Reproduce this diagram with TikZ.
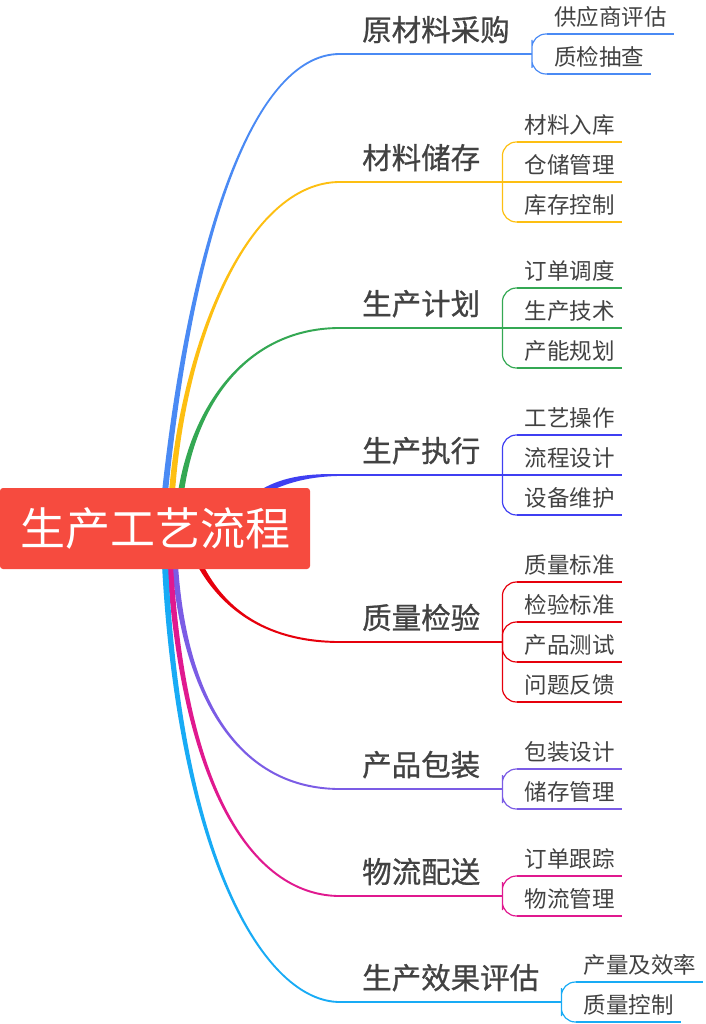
\documentclass[tikz,border=0pt]{standalone}
\usepackage{fontspec}
\newfontfamily\cjk{Noto Sans CJK SC}
\newfontfamily\cjkb[FakeBold=0.8]{Noto Sans CJK SC}
\usetikzlibrary{calc,backgrounds}
\definecolor{cA}{HTML}{4A8AF4}
\definecolor{cB}{HTML}{FDBF12}
\definecolor{cC}{HTML}{34A853}
\definecolor{cD}{HTML}{3F3FF2}
\definecolor{cE}{HTML}{E6000C}
\definecolor{cF}{HTML}{7B5CE5}
\definecolor{cG}{HTML}{E0198F}
\definecolor{cH}{HTML}{18ABF5}
\definecolor{rootred}{HTML}{F64B3F}
\definecolor{txt}{HTML}{424242}
\newcommand\taperup[5]{%
  \fill[#1] ($#2+(-3,0)$) .. controls ($#3+(-2,0)$) and ($#4+(0,-1.4)$) .. ($#5+(0,-0.9)$)
    -- ($#5+(0,0.9)$) .. controls ($#4+(0,1.4)$) and ($#3+(2,0)$) .. ($#2+(3,0)$) -- cycle;}
\newcommand\taperdown[5]{%
  \fill[#1] ($#2+(-3,0)$) .. controls ($#3+(-2,0)$) and ($#4+(0,1.4)$) .. ($#5+(0,0.9)$)
    -- ($#5+(0,-0.9)$) .. controls ($#4+(0,-1.4)$) and ($#3+(2,0)$) .. ($#2+(3,0)$) -- cycle;}
\tikzset{
  mainlbl/.style={anchor=south west, inner xsep=22pt, inner ysep=0pt, text height=21pt, text depth=13pt,
    font=\cjkb\fontsize{29.5}{30}\selectfont, text=txt},
  sublbl/.style={anchor=south west, inner xsep=7pt, inner ysep=0pt, text height=16pt, text depth=8.6pt,
    font=\cjk\fontsize{22.5}{23}\selectfont, text=txt},
  mline/.style={line width=1.8pt},
  sline/.style={line width=1.2pt},
  brk/.style={line width=1.2pt, rounded corners=14pt},
}
\begin{document}
\begin{tikzpicture}[x=1pt,y=-1pt]
\useasboundingbox (0,0) rectangle (705,1024);
\node[fill=rootred, rounded corners=3pt, minimum width=310pt, minimum height=81pt, inner sep=0pt,
  text=white, font=\cjk\fontsize{45}{45}\selectfont, text height=36.5pt, text depth=3.2pt] (root) at (155,528.5) {生产工艺流程};
% start points (hidden behind root)
\coordinate (r1) at (165,492);
\coordinate (r2) at (172,492);
\coordinate (r3) at (181,492);
\coordinate (r4) at (262,492);
\coordinate (r5) at (200,565);
\coordinate (r6) at (175,565);
\coordinate (r7) at (170,565);
\coordinate (r8) at (165,565);
% main labels
\node[mainlbl] (m1) at (340,54) {原材料采购};
\node[mainlbl] (m2) at (340,182) {材料储存};
\node[mainlbl] (m3) at (340,328) {生产计划};
\node[mainlbl] (m4) at (340,475) {生产执行};
\node[mainlbl] (m5) at (340,642) {质量检验};
\node[mainlbl] (m6) at (340,789) {产品包装};
\node[mainlbl] (m7) at (340,896) {物流配送};
\node[mainlbl] (m8) at (340,1002) {生产效果评估};
% sub labels
\node[sublbl] (s11) at ($(m1.south east)+(15,-20)$) {供应商评估};
\node[sublbl] (s12) at ($(m1.south east)+(15,20)$) {质检抽查};
\node[sublbl] (s21) at ($(m2.south east)+(15,-40)$) {材料入库};
\node[sublbl] (s22) at ($(m2.south east)+(15,0)$) {仓储管理};
\node[sublbl] (s23) at ($(m2.south east)+(15,40)$) {库存控制};
\node[sublbl] (s31) at ($(m3.south east)+(15,-40)$) {订单调度};
\node[sublbl] (s32) at ($(m3.south east)+(15,0)$) {生产技术};
\node[sublbl] (s33) at ($(m3.south east)+(15,40)$) {产能规划};
\node[sublbl] (s41) at ($(m4.south east)+(15,-40)$) {工艺操作};
\node[sublbl] (s42) at ($(m4.south east)+(15,0)$) {流程设计};
\node[sublbl] (s43) at ($(m4.south east)+(15,40)$) {设备维护};
\node[sublbl] (s51) at ($(m5.south east)+(15,-60)$) {质量标准};
\node[sublbl] (s52) at ($(m5.south east)+(15,-20)$) {检验标准};
\node[sublbl] (s53) at ($(m5.south east)+(15,20)$) {产品测试};
\node[sublbl] (s54) at ($(m5.south east)+(15,60)$) {问题反馈};
\node[sublbl] (s61) at ($(m6.south east)+(15,-20)$) {包装设计};
\node[sublbl] (s62) at ($(m6.south east)+(15,20)$) {储存管理};
\node[sublbl] (s71) at ($(m7.south east)+(15,-20)$) {订单跟踪};
\node[sublbl] (s72) at ($(m7.south east)+(15,20)$) {物流管理};
\node[sublbl] (s81) at ($(m8.south east)+(15,-20)$) {产量及效率};
\node[sublbl] (s82) at ($(m8.south east)+(15,20)$) {质量控制};
\begin{pgfonlayer}{background}
% main curves
\taperup{cA}{(r1)}{(190,250)}{(250,54)}{(m1.south west)}
\taperup{cB}{(r2)}{(184,340)}{(248,182)}{(m2.south west)}
\taperup{cC}{(r3)}{(195,400)}{(250,328)}{(m3.south west)}
\fill[cD] ($(r4)+(0,-3)$) .. controls (285,476) and (310,473.5) .. ($(m4.south west)+(0,-0.9)$)
  -- ($(m4.south west)+(0,0.9)$) .. controls (310,476.5) and (287,482) .. ($(r4)+(0,3)$) -- cycle;
\taperdown{cE}{(r5)}{(225,612)}{(270,642)}{(m5.south west)}
\taperdown{cF}{(r6)}{(185,700)}{(240,789)}{(m6.south west)}
\taperdown{cG}{(r7)}{(185,800)}{(258,896)}{(m7.south west)}
\taperdown{cH}{(r8)}{(180,860)}{(265,1002)}{(m8.south west)}
\end{pgfonlayer}
% branch 1
\draw[cA, mline] (m1.south west) -- (m1.south east);
\draw[cA, brk] (s11.south west) -| (m1.south east) |- (s12.south west);
\draw[cA, sline] (s11.south west) -- (s11.south east);
\draw[cA, sline] (s12.south west) -- (s12.south east);
% branch 2
\draw[cB, mline] (m2.south west) -- (m2.south east) -- (s22.south west);
\draw[cB, brk] (s21.south west) -| (m2.south east) |- (s23.south west);
\draw[cB, sline] (s21.south west) -- (s21.south east);
\draw[cB, sline] (s22.south west) -- (s22.south east);
\draw[cB, sline] (s23.south west) -- (s23.south east);
% branch 3
\draw[cC, mline] (m3.south west) -- (m3.south east) -- (s32.south west);
\draw[cC, brk] (s31.south west) -| (m3.south east) |- (s33.south west);
\draw[cC, sline] (s31.south west) -- (s31.south east);
\draw[cC, sline] (s32.south west) -- (s32.south east);
\draw[cC, sline] (s33.south west) -- (s33.south east);
% branch 4
\draw[cD, mline] (m4.south west) -- (m4.south east) -- (s42.south west);
\draw[cD, brk] (s41.south west) -| (m4.south east) |- (s43.south west);
\draw[cD, sline] (s41.south west) -- (s41.south east);
\draw[cD, sline] (s42.south west) -- (s42.south east);
\draw[cD, sline] (s43.south west) -- (s43.south east);
% branch 5
\draw[cE, mline] (m5.south west) -- (m5.south east);
\draw[cE, brk] (s51.south west) -| (m5.south east) |- (s54.south west);
\draw[cE, brk] (m5.south east) |- (s52.south west);
\draw[cE, brk] (m5.south east) |- (s53.south west);
\draw[cE, sline] (s51.south west) -- (s51.south east);
\draw[cE, sline] (s52.south west) -- (s52.south east);
\draw[cE, sline] (s53.south west) -- (s53.south east);
\draw[cE, sline] (s54.south west) -- (s54.south east);
% branch 6
\draw[cF, mline] (m6.south west) -- (m6.south east);
\draw[cF, brk] (s61.south west) -| (m6.south east) |- (s62.south west);
\draw[cF, sline] (s61.south west) -- (s61.south east);
\draw[cF, sline] (s62.south west) -- (s62.south east);
% branch 7
\draw[cG, mline] (m7.south west) -- (m7.south east);
\draw[cG, brk] (s71.south west) -| (m7.south east) |- (s72.south west);
\draw[cG, sline] (s71.south west) -- (s71.south east);
\draw[cG, sline] (s72.south west) -- (s72.south east);
% branch 8
\draw[cH, mline] (m8.south west) -- (m8.south east);
\draw[cH, brk] (s81.south west) -| (m8.south east) |- (s82.south west);
\draw[cH, sline] (s81.south west) -- (s81.south east);
\draw[cH, sline] (s82.south west) -- (s82.south east);
\end{tikzpicture}
\end{document}
